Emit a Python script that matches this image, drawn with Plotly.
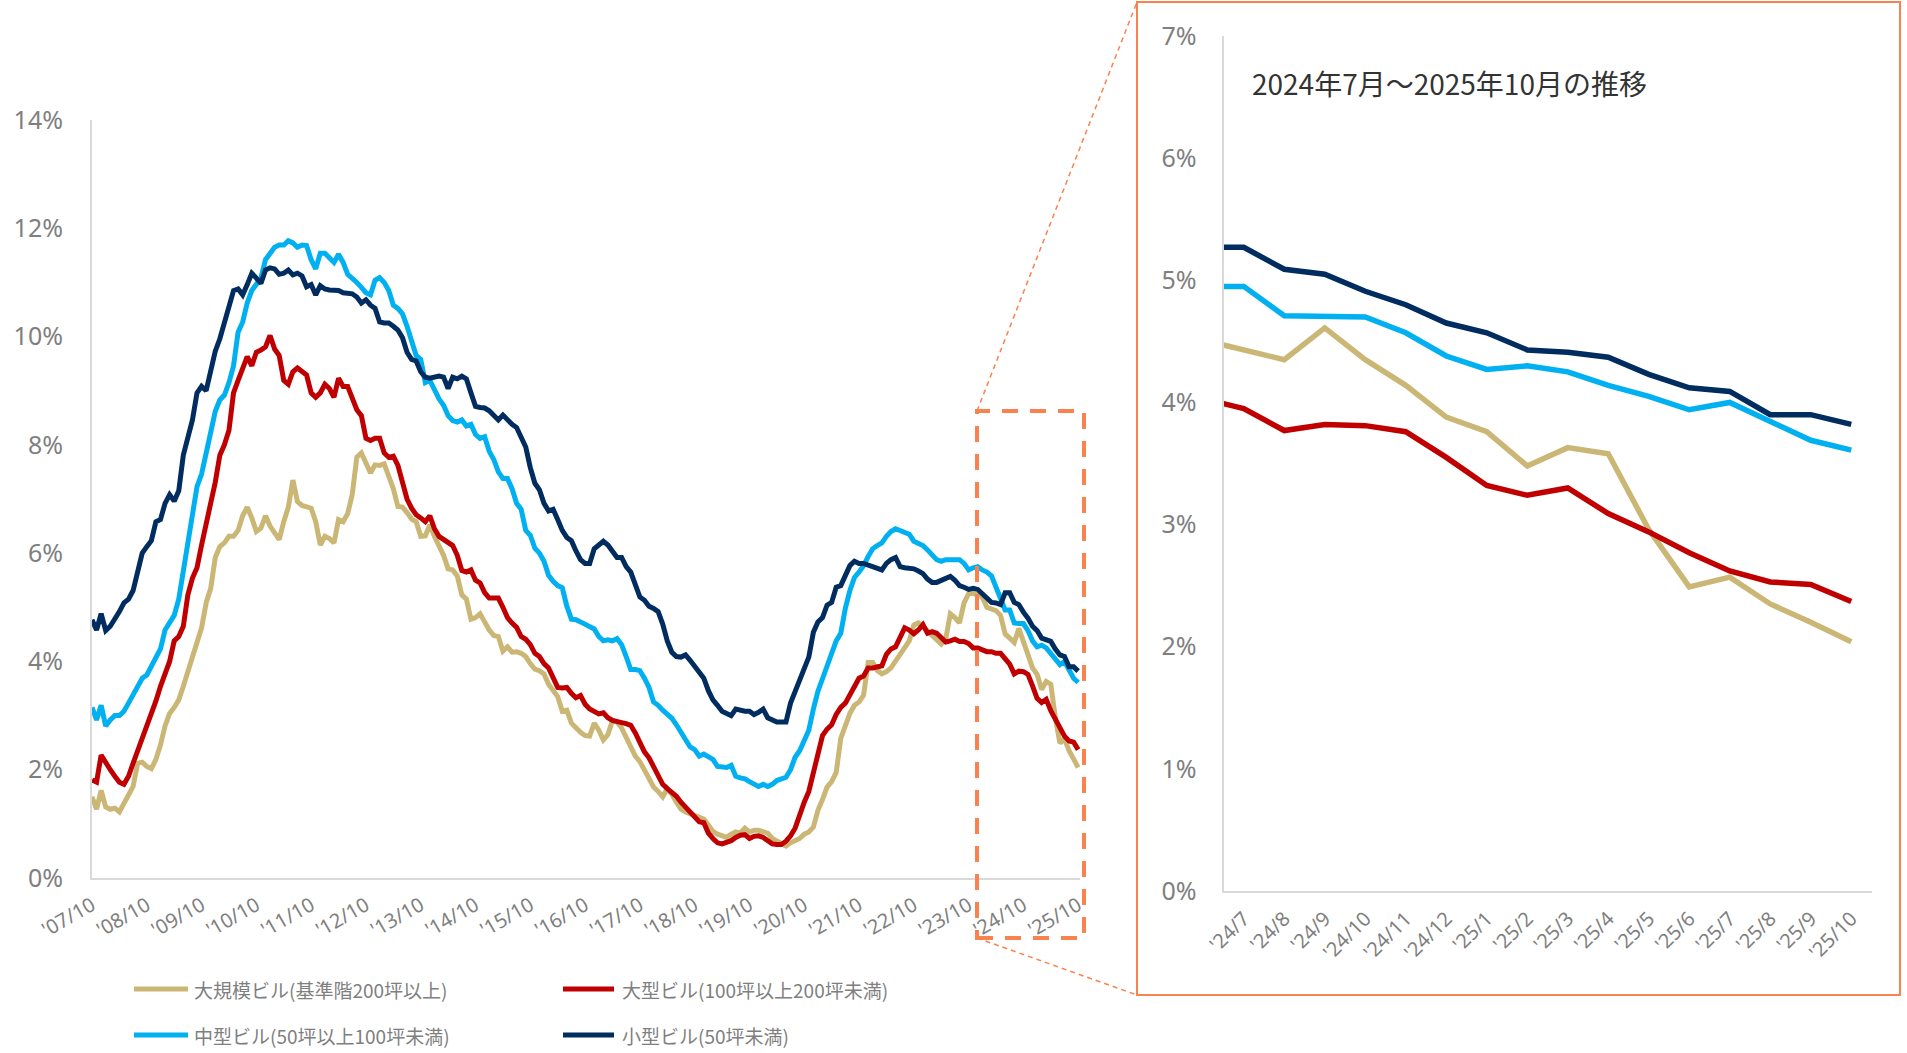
import plotly.graph_objects as go

# ---- data: monthly vacancy rate (%), Oct 2007 .. Oct 2025 ----
large_scale = [  # 大規模ビル(基準階200坪以上)
    1.50, 1.27, 1.62, 1.31, 1.27, 1.29, 1.22, 1.38, 1.54, 1.69,
    2.12, 2.14, 2.06, 2.02, 2.19, 2.46, 2.81, 3.04, 3.15, 3.29,
    3.54, 3.81, 4.08, 4.38, 4.62, 5.08, 5.35, 5.92, 6.12, 6.19,
    6.31, 6.31, 6.42, 6.69, 6.85, 6.65, 6.40, 6.46, 6.69, 6.50,
    6.38, 6.25, 6.58, 6.85, 7.35, 6.95, 6.88,
    6.85, 6.83, 6.58, 6.15, 6.31, 6.27, 6.19, 6.62, 6.58, 6.73, 7.08, 7.77,
    7.85, 7.65, 7.48, 7.63, 7.62, 7.65, 7.42, 7.19, 6.86, 6.85, 6.75, 6.63,
    6.58, 6.31, 6.32, 6.52, 6.31, 6.12, 5.96, 5.71, 5.69, 5.58, 5.23, 5.15,
    4.78, 4.81, 4.88, 4.73, 4.58, 4.48, 4.46, 4.19,
    4.27, 4.17, 4.18, 4.15, 4.09, 3.96, 3.86, 3.83, 3.77, 3.58, 3.45, 3.35,
    3.08, 3.10, 2.86, 2.77, 2.69, 2.63, 2.62, 2.86, 2.73, 2.55, 2.65, 2.91,
    2.88, 2.77, 2.60, 2.46, 2.25, 2.15, 2.00, 1.87, 1.68, 1.60, 1.50, 1.65,
    1.55, 1.40, 1.27, 1.22, 1.19, 1.17, 1.14, 1.09, 0.98,
    0.86, 0.81, 0.77, 0.75, 0.81, 0.85, 0.83, 0.92, 0.85, 0.88, 0.88, 0.86,
    0.83, 0.73, 0.68, 0.62, 0.59, 0.65, 0.68, 0.73, 0.81, 0.85, 0.94, 1.25,
    1.45, 1.68, 1.78, 1.95, 2.58, 2.82, 3.04, 3.19, 3.25, 3.38, 3.98, 3.98,
    3.83, 3.77, 3.81, 3.88, 4.00, 4.14, 4.25, 4.38, 4.67,
    4.71, 4.65, 4.55, 4.48, 4.40, 4.32, 4.42, 4.88, 4.81, 4.71, 5.08, 5.25,
    5.26, 5.23, 5.19, 5.00, 4.98, 4.94, 4.85,
    4.51, 4.43, 4.35, 4.61, 4.35, 4.14, 3.88, 3.76, 3.48, 3.63, 3.58, 2.96,
    2.49, 2.57, 2.35, 2.20, 2.04,
]

large = [  # 大型ビル(100坪以上200坪未満)
    1.81, 1.77, 2.27, 2.12, 2.00, 1.88, 1.77, 1.73, 1.88, 2.12,
    2.35, 2.54, 2.77, 3.04, 3.27, 3.54, 3.77, 4.00, 4.38, 4.46,
    4.65, 5.23, 5.54, 5.73, 6.15, 6.54, 6.96, 7.31, 7.81, 8.00,
    8.27, 8.96, 9.19, 9.42, 9.63, 9.46, 9.71, 9.75, 9.81, 10.02,
    9.77, 9.65, 9.19, 9.12, 9.35, 9.42, 9.35,
    9.29, 8.96, 8.88, 8.96, 9.12, 9.04, 8.88, 9.23, 9.08, 9.08, 8.85, 8.65,
    8.54, 8.12, 8.08, 8.12, 8.12, 7.85, 7.77, 7.79, 7.62, 7.31, 7.00, 6.83,
    6.71, 6.65, 6.58, 6.69, 6.45, 6.31, 6.25, 6.19, 6.14, 5.96, 5.68, 5.65,
    5.69, 5.50, 5.45, 5.27, 5.17, 5.17, 5.17, 5.00,
    4.81, 4.71, 4.63, 4.46, 4.41, 4.31, 4.15, 4.09, 3.96, 3.88, 3.69, 3.52,
    3.51, 3.52, 3.41, 3.33, 3.37, 3.21, 3.12, 3.08, 3.03, 3.05, 2.96, 2.91,
    2.88, 2.87, 2.85, 2.82, 2.68, 2.48, 2.33, 2.22, 2.06, 1.87, 1.73, 1.65,
    1.58, 1.51, 1.40, 1.31, 1.23, 1.15, 1.04, 1.02, 0.83,
    0.73, 0.65, 0.63, 0.65, 0.69, 0.75, 0.79, 0.80, 0.73, 0.77, 0.78, 0.75,
    0.68, 0.63, 0.62, 0.62, 0.68, 0.78, 0.92, 1.19, 1.40, 1.60, 1.92, 2.27,
    2.63, 2.75, 2.83, 3.02, 3.15, 3.23, 3.38, 3.55, 3.69, 3.73, 3.88, 3.88,
    3.89, 3.92, 4.13, 4.23, 4.27, 4.45, 4.62, 4.58, 4.51,
    4.58, 4.68, 4.52, 4.55, 4.52, 4.45, 4.36, 4.38, 4.41, 4.37, 4.37, 4.33,
    4.25, 4.25, 4.22, 4.18, 4.18, 4.15, 4.15,
    4.03, 3.95, 3.77, 3.82, 3.81, 3.76, 3.55, 3.32, 3.24, 3.30, 3.09, 2.94,
    2.77, 2.62, 2.53, 2.51, 2.37,
]

medium = [  # 中型ビル(50坪以上100坪未満)
    3.15, 2.92, 3.19, 2.81, 2.92, 3.00, 3.00, 3.08, 3.23, 3.38,
    3.54, 3.69, 3.75, 3.92, 4.04, 4.23, 4.58, 4.73, 4.85, 5.15,
    5.69, 6.15, 6.77, 7.23, 7.46, 7.81, 8.23, 8.62, 8.83, 8.92,
    9.15, 9.46, 10.08, 10.27, 10.62, 10.85, 10.96, 11.08, 11.42, 11.54,
    11.65, 11.69, 11.69, 11.77, 11.73, 11.65, 11.69,
    11.68, 11.42, 11.25, 11.54, 11.54, 11.45, 11.37, 11.52, 11.37, 11.15, 11.08, 11.00,
    10.91, 10.81, 10.77, 11.04, 11.09, 11.00, 10.85, 10.58, 10.52, 10.42, 10.19, 9.92,
    9.65, 9.58, 9.15, 9.19, 9.00, 8.85, 8.73, 8.54, 8.45, 8.42, 8.46, 8.35,
    8.38, 8.19, 8.12, 8.15, 7.88, 7.73, 7.50, 7.38,
    7.38, 7.19, 6.92, 6.81, 6.42, 6.33, 6.09, 6.00, 5.85, 5.59, 5.48, 5.40,
    5.36, 5.02, 4.78, 4.77, 4.73, 4.68, 4.65, 4.60, 4.46, 4.38, 4.40, 4.38,
    4.42, 4.31, 4.09, 3.85, 3.85, 3.83, 3.69, 3.52, 3.25, 3.19, 3.10, 3.02,
    2.95, 2.83, 2.68, 2.56, 2.42, 2.37, 2.25, 2.29, 2.25,
    2.19, 2.06, 2.04, 2.04, 2.08, 1.88, 1.85, 1.83, 1.78, 1.73, 1.69, 1.73,
    1.69, 1.73, 1.80, 1.83, 1.86, 2.00, 2.23, 2.35, 2.52, 2.73, 3.12, 3.45,
    3.68, 3.92, 4.18, 4.38, 4.52, 4.98, 5.31, 5.55, 5.65, 5.77, 5.94, 6.08,
    6.14, 6.19, 6.31, 6.40, 6.45, 6.42, 6.38, 6.35, 6.22,
    6.18, 6.14, 6.06, 5.98, 5.88, 5.85, 5.88, 5.88, 5.88, 5.88, 5.81, 5.69,
    5.73, 5.75, 5.69, 5.65, 5.58, 5.38, 5.20,
    4.95, 4.95, 4.71, 4.70, 4.70, 4.57, 4.38, 4.27, 4.30, 4.25, 4.14, 4.05,
    3.94, 4.00, 3.84, 3.69, 3.61,
]

small = [  # 小型ビル(50坪未満)
    4.77, 4.58, 4.88, 4.57, 4.65, 4.77, 4.92, 5.08, 5.15, 5.31,
    5.69, 6.00, 6.12, 6.23, 6.58, 6.62, 6.92, 7.08, 6.96, 7.15,
    7.81, 8.12, 8.46, 8.96, 9.08, 9.00, 9.38, 9.73, 9.96, 10.27,
    10.54, 10.85, 10.88, 10.77, 10.96, 11.17, 11.08, 10.98, 11.23, 11.27,
    11.25, 11.15, 11.17, 11.23, 11.14, 11.17, 11.12,
    10.92, 10.96, 10.77, 10.94, 10.88, 10.86, 10.85, 10.85, 10.81, 10.81, 10.79, 10.73,
    10.62, 10.68, 10.58, 10.52, 10.27, 10.25, 10.25, 10.19, 10.12, 9.98, 9.71, 9.58,
    9.55, 9.35, 9.25, 9.23, 9.25, 9.27, 9.25, 9.04, 9.25, 9.22, 9.27, 9.22,
    8.96, 8.71, 8.69, 8.68, 8.63, 8.54, 8.46, 8.55,
    8.46, 8.38, 8.32, 8.15, 7.96, 7.58, 7.29, 7.17, 6.92, 6.78, 6.81, 6.62,
    6.42, 6.29, 6.23, 6.04, 5.88, 5.81, 5.81, 6.08, 6.14, 6.22, 6.15, 6.04,
    5.92, 5.92, 5.75, 5.65, 5.42, 5.19, 5.13, 5.02, 4.98, 4.92, 4.69, 4.38,
    4.17, 4.09, 4.08, 4.12, 4.02, 3.91, 3.83, 3.69, 3.46,
    3.29, 3.19, 3.08, 3.04, 3.00, 3.12, 3.09, 3.08, 3.08, 3.02, 3.06, 3.12,
    2.96, 2.91, 2.88, 2.88, 2.88, 3.23, 3.45, 3.63, 3.88, 4.08, 4.54, 4.73,
    4.81, 5.04, 5.09, 5.37, 5.40, 5.60, 5.77, 5.85, 5.81, 5.81, 5.78, 5.75,
    5.73, 5.69, 5.81, 5.88, 5.92, 5.75, 5.73, 5.73, 5.71,
    5.67, 5.62, 5.52, 5.46, 5.46, 5.50, 5.54, 5.57, 5.50, 5.40, 5.37, 5.33,
    5.35, 5.33, 5.25, 5.17, 5.09, 5.08, 5.05,
    5.27, 5.27, 5.09, 5.05, 4.91, 4.80, 4.65, 4.57, 4.43, 4.41, 4.37, 4.23,
    4.12, 4.09, 3.90, 3.90, 3.82,
]

series_names = [
    "大規模ビル(基準階200坪以上)",
    "大型ビル(100坪以上200坪未満)",
    "中型ビル(50坪以上100坪未満)",
    "小型ビル(50坪未満)",
]
series_colors = ["#CBB775", "#C00000", "#00B0F0", "#002C5F"]

main_tick_labels = ["'%02d/10" % (y % 100) for y in range(2007, 2026)]
inset_tick_labels = ["'24/7", "'24/8", "'24/9", "'24/10", "'24/11", "'24/12",
                     "'25/1", "'25/2", "'25/3", "'25/4", "'25/5", "'25/6",
                     "'25/7", "'25/8", "'25/9", "'25/10"]
inset_title = "2024年7月～2025年10月の推移"

all_series = [large_scale, large, medium, small]
n_months = len(small)
for s in all_series:
    assert len(s) == n_months == 217, len(s)

# the inset shows Jul 2024 .. Oct 2025 (plus Jun 2024 so the line enters from the axis)
inset_first = n_months - len(inset_tick_labels) - 1

# ---- geometry (page pixels) ----
W, H = 1907, 1053


def fx(px):
    return px / W


def fy(py):
    return (H - py) / H


GRAY_TXT = "#7F7F7F"
AXIS_GRAY = "#D9D9D9"
ORANGE = "#F8834F"
LATIN = "Noto Sans, DejaVu Sans, sans-serif"
CJK = "Noto Sans CJK JP, Noto Sans, sans-serif"

fig = go.Figure()

months_idx = list(range(n_months))
for vals, name, col in zip(all_series, series_names, series_colors):
    fig.add_trace(go.Scatter(
        x=months_idx, y=vals, name=name, mode="lines",
        line=dict(color=col, width=5), showlegend=False,
        xaxis="x", yaxis="y", hoverinfo="skip"))

inset_x = list(range(-1, len(inset_tick_labels)))
for vals, name, col in zip(all_series, series_names, series_colors):
    fig.add_trace(go.Scatter(
        x=inset_x, y=vals[inset_first:], name=name, mode="lines",
        line=dict(color=col, width=5.5), showlegend=False,
        xaxis="x2", yaxis="y2", hoverinfo="skip"))

axis_common = dict(showgrid=False, zeroline=False, showline=True,
                   linecolor=AXIS_GRAY, linewidth=2, automargin=False,
                   ticks="outside", tickcolor="rgba(0,0,0,0)")

fig.update_layout(
    width=W, height=H,
    margin=dict(l=0, r=0, t=0, b=0, pad=0, autoexpand=False),
    paper_bgcolor="white", plot_bgcolor="rgba(0,0,0,0)",
    showlegend=False,
    xaxis=dict(domain=[fx(92), fx(1080)], range=[0, 216.4],
               tickvals=list(range(0, n_months, 12)), ticktext=main_tick_labels,
               tickangle=-30, ticklen=6,
               tickfont=dict(family=LATIN, size=20, color=GRAY_TXT),
               anchor="y", **axis_common),
    yaxis=dict(domain=[fy(878), fy(120)], range=[0, 14], dtick=2,
               ticksuffix="%", ticklen=22,
               tickfont=dict(family=LATIN, size=25, color=GRAY_TXT),
               anchor="x", **axis_common),
    xaxis2=dict(domain=[fx(1223.5), fx(1871.5)], range=[-0.5, 15.5],
                tickvals=list(range(len(inset_tick_labels))),
                ticktext=inset_tick_labels,
                tickangle=-45, ticklen=6,
                tickfont=dict(family=LATIN, size=20, color=GRAY_TXT),
                anchor="y2", **axis_common),
    yaxis2=dict(domain=[fy(891), fy(36)], range=[0, 7], dtick=1,
                ticksuffix="%", ticklen=20,
                tickfont=dict(family=LATIN, size=25, color=GRAY_TXT),
                anchor="x2", **axis_common),
)

shapes = []
# highlight box on the main chart
shapes.append(dict(type="rect", xref="paper", yref="paper",
                   x0=fx(977), x1=fx(1084), y0=fy(938), y1=fy(411),
                   line=dict(color=ORANGE, width=4, dash="16px,12px")))
# guide lines to the enlarged panel
for (xa, ya, xb, yb) in [(977, 411, 1137, 2), (977, 938, 1137, 995)]:
    shapes.append(dict(type="line", xref="paper", yref="paper",
                       x0=fx(xa), y0=fy(ya), x1=fx(xb), y1=fy(yb),
                       line=dict(color=ORANGE, width=1.5, dash="5px,4px")))
# frame of the enlarged panel
shapes.append(dict(type="rect", xref="paper", yref="paper",
                   x0=fx(1137), x1=fx(1900), y0=fy(995), y1=fy(2),
                   line=dict(color=ORANGE, width=2)))

# legend (two columns, two rows)
legend_slots = [(134, 188, 192, 989), (563, 614, 620, 989),
                (134, 188, 192, 1035), (563, 614, 620, 1035)]
annotations = []
for (lx0, lx1, tx, ly), name, col in zip(legend_slots, series_names, series_colors):
    shapes.append(dict(type="line", xref="paper", yref="paper",
                       x0=fx(lx0), x1=fx(lx1), y0=fy(ly), y1=fy(ly),
                       line=dict(color=col, width=5)))
    annotations.append(dict(xref="paper", yref="paper", x=fx(tx), y=fy(ly),
                            xanchor="left", yanchor="middle", showarrow=False,
                            text=name,
                            font=dict(family=CJK, size=19, color=GRAY_TXT)))

annotations.append(dict(xref="paper", yref="paper", x=fx(1250), y=fy(83),
                        xanchor="left", yanchor="middle", showarrow=False,
                        text=inset_title,
                        font=dict(family=CJK, size=28, color="#333333")))

fig.update_layout(shapes=shapes, annotations=annotations)

fig.write_html("out.html")
